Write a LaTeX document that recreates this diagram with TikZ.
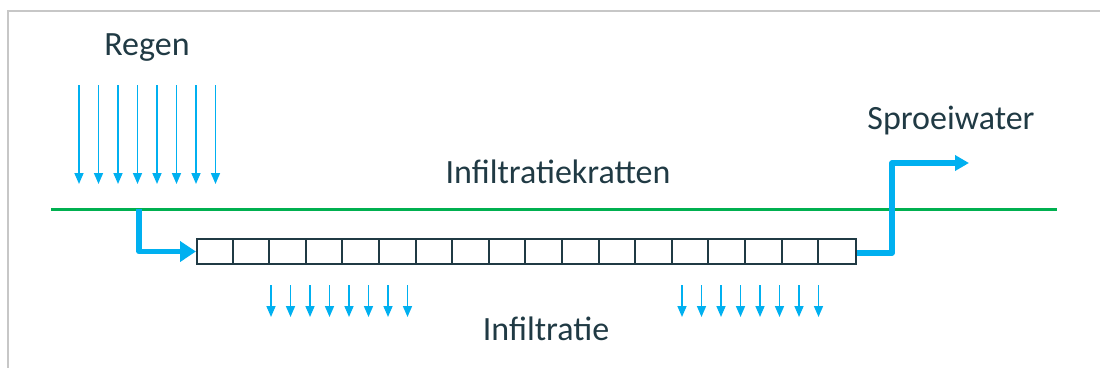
\documentclass[tikz,border=0pt]{standalone}
\usepackage{fontspec}
\setmainfont{Carlito}
\usepackage{xcolor}
\usepackage{tikz}
\usetikzlibrary{arrows.meta}

\definecolor{waterblue}{HTML}{00B0F0}
\definecolor{groundgreen}{HTML}{00B050}
\definecolor{inkdark}{HTML}{203A44}

\tikzset{
    label text/.style={text=inkdark, font=\fontsize{34}{40}\selectfont, anchor=base, inner sep=0pt},
    rain/.style={waterblue, line width=1.6pt, -{Triangle[width=9pt, length=11pt]}},
    flow/.style={waterblue, line width=5.5pt, line join=round},
}

\begin{document}
\begin{tikzpicture}[x=1pt, y=-1pt]
    \useasboundingbox (0,0) rectangle (1100,367);
    % frame
    \draw[black!22, line width=1.5pt] (8,370) -- (8,11) -- (1102,11);

    % labels
    \node[label text] (regen) at (147,55) {Regen};
    \node[label text] (kratlabel) at (558,183) {Infiltratiekratten};
    \node[label text] (sproei) at (951,129) {Sproeiwater};
    \node[label text] (infil) at (546,340) {Infiltratie};

    % rain
    \foreach \x in {79,98.5,118,137.5,157,176.5,196,215.5}
        \draw[rain] (\x,85) -- (\x,184);

    % ground level
    \draw[groundgreen, line width=3pt] (51,209) -- (1057,209);

    % crates
    \node[draw=inkdark, line width=2pt, minimum width=659pt, minimum height=25pt,
          inner sep=0pt, anchor=north west] (kratten) at (196,238) {};
    \foreach \i in {1,...,17}
        \draw[inkdark, line width=2pt] ([xshift=\i*36.6pt]kratten.north west) -- ([xshift=\i*36.6pt]kratten.south west);

    % inflow and outflow
    \coordinate (instart) at (139,209);
    \coordinate (uit) at (969,163);
    \draw[flow, -{Triangle[width=20pt, length=16pt]}] (instart) |- (kratten.west);
    \draw[flow, -{Triangle[width=15pt, length=14pt]}] ([yshift=-1.5pt]kratten.east) -| (892,163) -- (uit);

    % infiltration
    \foreach \x in {271,290.5,310,329.5,349,368.5,388,407.5,682,701.5,721,740.5,760,779.5,799,818.5}
        \draw[rain] (\x,285) -- (\x,317);
\end{tikzpicture}
\end{document}
